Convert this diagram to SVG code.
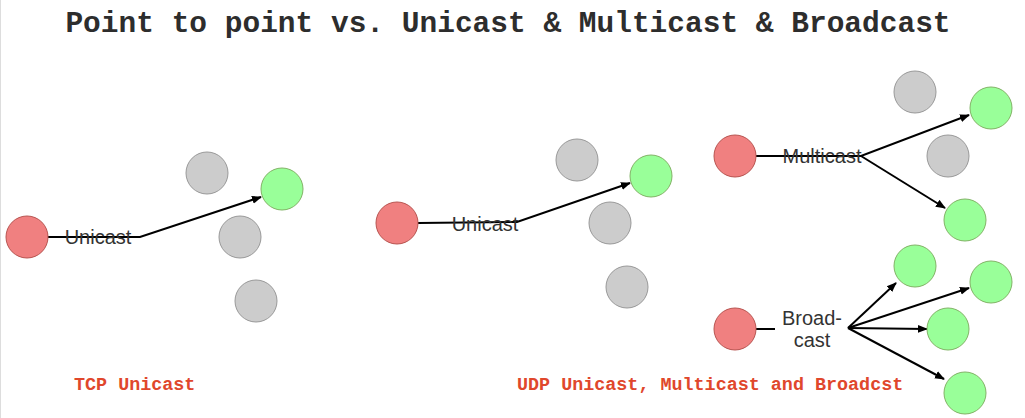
<svg xmlns="http://www.w3.org/2000/svg" width="1025" height="418" viewBox="0 0 1025 418">
<style>
.g{fill:#cccccc;stroke:#999999;stroke-width:1}
.gr{fill:#99ff99;stroke:#82b366;stroke-width:1}
.r{fill:#f08080;stroke:#b85450;stroke-width:1}
.e{fill:none;stroke:#000;stroke-width:2}
.lbl{font-family:"Liberation Sans",Arial,sans-serif;font-size:20px;fill:#333333}
.title{font-family:"Liberation Mono","Courier New",monospace;font-weight:bold;font-size:29.5px;fill:#2d2d2d}
.cap{font-family:"Liberation Mono","Courier New",monospace;font-weight:bold;font-size:18.4px;fill:#e0472c}
</style>
<defs>
<marker id="ah" viewBox="0 0 10 10" refX="9" refY="5" markerWidth="10" markerHeight="10" markerUnits="userSpaceOnUse" orient="auto">
<path d="M0,1 L10,5 L0,9 z" fill="#000"/>
</marker>
</defs>
<rect x="0" y="0" width="1025" height="418" fill="#ffffff"/>
<line x1="0.5" y1="0" x2="0.5" y2="418" stroke="#dddddd" stroke-width="1"/>
<text class="title" x="508" y="32" text-anchor="middle">Point to point vs. Unicast &amp; Multicast &amp; Broadcast</text>

<g id="connectors">
<path class="e" d="M47,237 L140,237 L261,197" marker-end="url(#ah)"/>
<path class="e" d="M418,223 L517,222 L630,183" marker-end="url(#ah)"/>
<path class="e" d="M756,156 L861,156 L969,115" marker-end="url(#ah)"/>
<path class="e" d="M861,156 L945,208" marker-end="url(#ah)"/>
<path class="e" d="M756,329 L775,329"/>
<path class="e" d="M848,328 L896,283" marker-end="url(#ah)"/>
<path class="e" d="M848,328 L969,288" marker-end="url(#ah)"/>
<path class="e" d="M848,328 L927,329" marker-end="url(#ah)"/>
<path class="e" d="M848,328 L944,379" marker-end="url(#ah)"/>
</g>

<g id="tcp-sender"><circle class="r" cx="27" cy="237" r="21"/></g>
<g id="tcp-gray1"><circle class="g" cx="207" cy="173" r="21"/></g>
<g id="tcp-green"><circle class="gr" cx="282" cy="189" r="21"/></g>
<g id="tcp-gray2"><circle class="g" cx="240" cy="237" r="21"/></g>
<g id="tcp-gray3"><circle class="g" cx="256" cy="301" r="21"/></g>
<g id="tcp-label"><text class="lbl" x="98" y="244" text-anchor="middle">Unicast</text></g>

<g id="udp-sender"><circle class="r" cx="397" cy="223" r="21"/></g>
<g id="udp-gray1"><circle class="g" cx="577" cy="160" r="21"/></g>
<g id="udp-green"><circle class="gr" cx="651" cy="176" r="21"/></g>
<g id="udp-gray2"><circle class="g" cx="610" cy="223" r="21"/></g>
<g id="udp-gray3"><circle class="g" cx="627" cy="287" r="21"/></g>
<g id="udp-label"><text class="lbl" x="485" y="231" text-anchor="middle">Unicast</text></g>

<g id="mc-sender"><circle class="r" cx="735" cy="156" r="21"/></g>
<g id="mc-gray1"><circle class="g" cx="915" cy="92" r="21"/></g>
<g id="mc-green1"><circle class="gr" cx="991" cy="108" r="21"/></g>
<g id="mc-gray2"><circle class="g" cx="948" cy="156" r="21"/></g>
<g id="mc-green2"><circle class="gr" cx="965" cy="220" r="21"/></g>
<g id="mc-label"><text class="lbl" x="822" y="163" text-anchor="middle">Multicast</text></g>

<g id="bc-sender"><circle class="r" cx="735" cy="329" r="21"/></g>
<g id="bc-green1"><circle class="gr" cx="915" cy="266" r="21"/></g>
<g id="bc-green2"><circle class="gr" cx="991" cy="282" r="21"/></g>
<g id="bc-green3"><circle class="gr" cx="948" cy="329" r="21"/></g>
<g id="bc-green4"><circle class="gr" cx="965" cy="393" r="21"/></g>
<g id="bc-label"><text class="lbl" x="812" y="325" text-anchor="middle">Broad-</text><text class="lbl" x="812" y="347" text-anchor="middle">cast</text></g>

<text class="cap" x="74" y="390">TCP Unicast</text>
<text class="cap" x="517" y="390">UDP Unicast, Multicast and Broadcst</text>
</svg>
